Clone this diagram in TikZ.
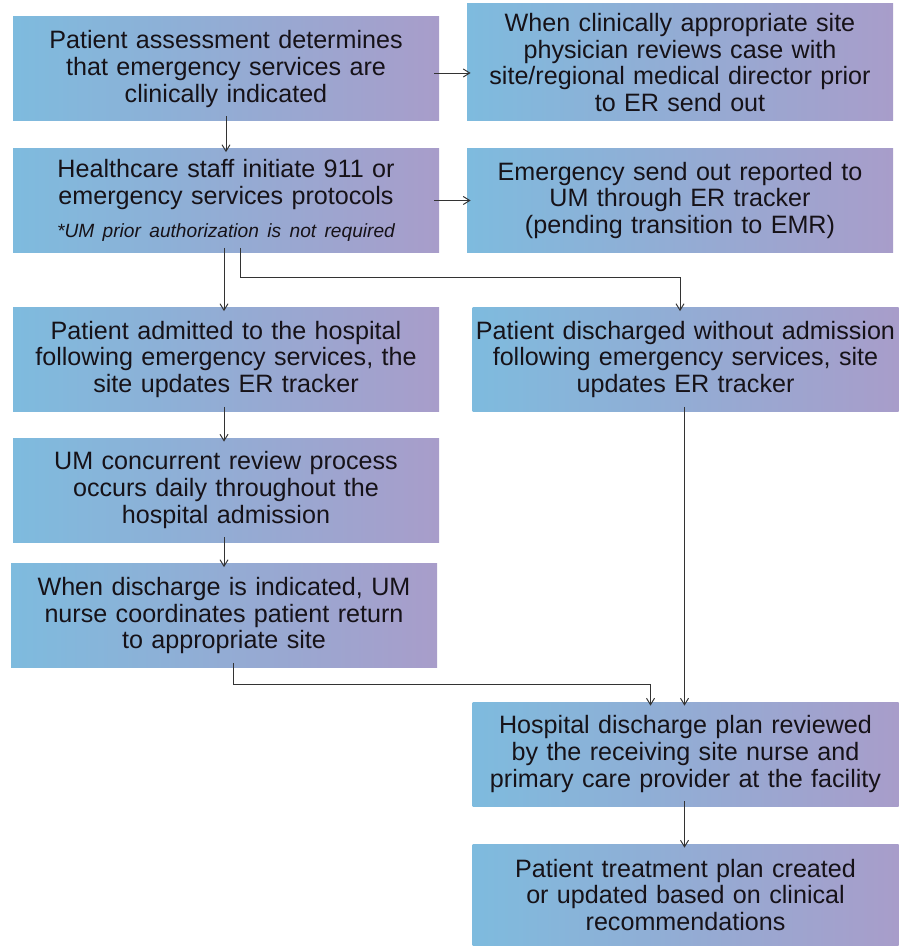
\documentclass[tikz,border=0pt]{standalone}
\usepackage{fontspec}
\setmainfont{Liberation Sans}
\usepackage{tikz}
\usetikzlibrary{arrows.meta, positioning}

\definecolor{boxl}{RGB}{126,187,222}
\definecolor{boxr}{RGB}{168,157,202}
\definecolor{linegray}{RGB}{51,51,51}
\definecolor{ink}{RGB}{22,18,24}

\begin{document}
\begin{tikzpicture}[on grid,>={Straight Barb[length=1.3mm,width=1.6mm]},
        box/.style={left color=boxl, right color=boxr, draw=none, text=ink,
            minimum width=8.52cm, minimum height=2.08cm, text width=8.5cm,
            align=center, inner sep=0pt, font=\fontsize{14.3}{15.1}\selectfont},
        link/.style={->, draw=linegray, line width=0.55pt,
            shorten <=-0.1cm, shorten >=-0.08cm}]

  \useasboundingbox (0,0) rectangle (18,-18.92);

  \node[box]  (assess)  at (4.52,-1.38)
      {Patient assessment determines\\ that emergency services are\\ clinically indicated};
  \node[box, minimum height=2.34cm] (review) [right=9.08cm of assess, yshift=0.13cm]
      {When clinically appropriate site\\ physician reviews case with\\ site/regional medical director prior\\ to ER send out};
  \node[box]  (initiate) [below=2.63cm of assess]
      {Healthcare staff initiate 911 or\\ emergency services protocols\\[4pt]
       {\fontsize{10.9}{12}\selectfont\itshape *UM prior authorization is not required}};
  \node[box]  (report)  [right=9.08cm of initiate]
      {Emergency send out reported to\\ UM through ER tracker\\ (pending transition to EMR)};
  \node[box]  (admit)   [below=3.18cm of initiate]
      {Patient admitted to the hospital\\ following emergency services, the\\ site updates ER tracker};
  \node[box]  (release) [right=9.19cm of admit]
      {Patient discharged without admission\\ following emergency services, site\\ updates ER tracker};
  \node[box]  (concur)  [below=2.61cm of admit]
      {UM concurrent review process\\ occurs daily throughout the\\ hospital admission};
  \node[box]  (coord)   [below=2.51cm of concur, xshift=-0.04cm]
      {When discharge is indicated, UM\\ nurse coordinates patient return\\ to appropriate site};
  \node[box]  (plan)    [below=7.89cm of release]
      {Hospital discharge plan reviewed\\ by the receiving site nurse and\\ primary care provider at the facility};
  \node[box, minimum height=2.04cm] (treat) [below=2.82cm of plan]
      {Patient treatment plan created\\ or updated based on clinical\\ recommendations};

  % side branches
  \draw[link] ([yshift=-0.08cm]assess.east) coordinate (ab) -- (ab -| review.west);
  \draw[link] (initiate.east) -- (report.west);

  % main column
  \draw[link] (assess.south) -- (initiate.north);
  \draw[link] ([xshift=-0.04cm]initiate.south) -- ([xshift=-0.04cm]admit.north);
  \draw[link] ([xshift=0.28cm]initiate.south) -- ++(0,-0.5) -| ([xshift=-0.11cm]release.north);
  \draw[link] ([xshift=-0.04cm]admit.south) -- ([xshift=-0.04cm]concur.north);
  \draw[link] ([xshift=-0.04cm]concur.south) -- (coord.north);
  \draw[link] ([xshift=0.18cm]coord.south) -- ++(0,-0.34) -| ([xshift=-0.7cm]plan.north);
  \draw[link] ([xshift=-0.02cm]release.south) -- ([xshift=-0.02cm]plan.north);
  \draw[link] ([xshift=-0.02cm]plan.south) -- ([xshift=-0.02cm]treat.north);
\end{tikzpicture}
\end{document}
